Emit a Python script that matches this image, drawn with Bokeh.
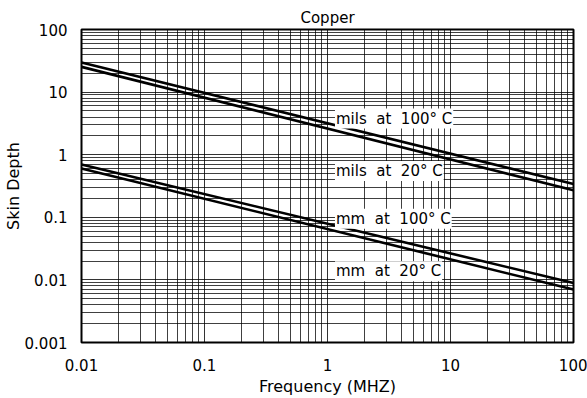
from bokeh.plotting import figure
from bokeh.models import FixedTicker, CustomJSTickFormatter, Label
from bokeh.embed import file_html
from bokeh.resources import INLINE

freq_mhz = [0.01, 100]
mils_100c = [29.7, 0.34]
mils_20c = [25.3, 0.27]
mm_100c = [0.70, 0.0089]
mm_20c = [0.60, 0.0070]

NB = "\u00a0"
labels = ["mils" + NB*2 + "at" + NB*2 + "100°" + NB + "C",
          "mils" + NB*2 + "at" + NB*2 + "20°" + NB + "C",
          "mm" + NB*2 + "at" + NB*2 + "100°" + NB + "C",
          "mm" + NB*2 + "at" + NB*2 + "20°" + NB + "C"]
label_x = [1.15, 1.15, 1.15, 1.15]
label_y = [3.77, 0.55, 0.095, 0.0138]

x_ticks = [0.01, 0.1, 1, 10, 100]
y_ticks = [0.001, 0.01, 0.1, 1, 10, 100]

FONT = "DejaVu Sans"

p = figure(width=587, height=398, x_axis_type="log", y_axis_type="log",
           x_range=(0.01, 100), y_range=(0.001, 100),
           output_backend="svg", toolbar_location=None,
           min_border_left=79, min_border_right=14, min_border_top=29, min_border_bottom=53)

p.title.text = "Copper"
p.title.align = "center"
p.title.text_font = FONT
p.title.text_font_size = "15px"
p.title.text_font_style = "normal"
p.title.text_color = "black"
p.title.standoff = 5
p.title.offset = 0

p.outline_line_color = "black"
p.outline_line_width = 2

def minor(ticks):
    out = []
    for t in ticks[:-1]:
        for k in range(2, 10):
            out.append(t * k)
    return out

p.xaxis.ticker = FixedTicker(ticks=x_ticks, minor_ticks=minor(x_ticks))
p.yaxis.ticker = FixedTicker(ticks=y_ticks, minor_ticks=minor(y_ticks))
fmt = "return tick.toString();"
p.xaxis.formatter = CustomJSTickFormatter(code=fmt)
p.yaxis.formatter = CustomJSTickFormatter(code=fmt)

for ax in (p.xaxis, p.yaxis):
    ax.axis_line_color = None
    ax.major_tick_line_color = None
    ax.minor_tick_line_color = None
    ax.major_label_text_font = FONT
    ax.major_label_text_font_size = "15px"
    ax.major_label_text_color = "black"
    ax.axis_label_text_font = FONT
    ax.axis_label_text_font_size = "16px"
    ax.axis_label_text_font_style = "normal"
    ax.axis_label_text_color = "black"

p.xaxis.axis_label = "Frequency (MHZ)"
p.yaxis.axis_label = "Skin" + NB + "Depth"
p.xaxis.major_label_standoff = 10
p.yaxis.major_label_standoff = 8
p.xaxis.axis_label_standoff = 3
p.yaxis.axis_label_standoff = -1

for g in (p.xgrid, p.ygrid):
    g.grid_line_color = "black"
    g.grid_line_alpha = 0.8
    g.grid_line_width = 1
    g.minor_grid_line_color = "black"
    g.minor_grid_line_alpha = 0.75
    g.minor_grid_line_width = 1

for ys in (mils_100c, mils_20c, mm_100c, mm_20c):
    p.line(freq_mhz, ys, line_color="black", line_width=2.6)

for t, x, y in zip(labels, label_x, label_y):
    p.add_layout(Label(x=x, y=y, text=t, text_font=FONT, text_font_size="15px",
                       text_color="black",
                       text_baseline="middle", text_align="left",
                       background_fill_color="white", background_fill_alpha=1.0,
                       padding=1))

open("out.html", "w").write(file_html(p, INLINE))
